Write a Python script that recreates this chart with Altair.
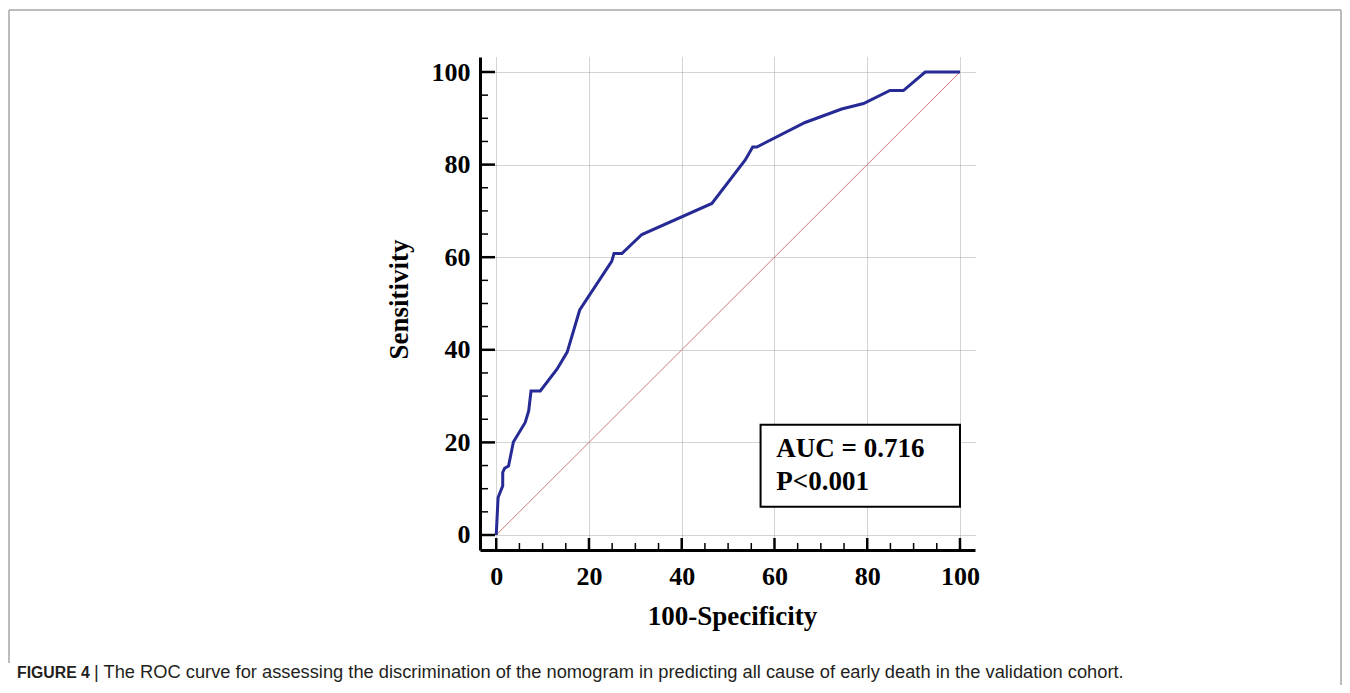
import altair as alt
import pandas as pd

# ROC curve points (100-Specificity, Sensitivity)
fpr = [0, 0.4, 1.4, 1.4, 1.8, 2.65, 3.7, 6.25, 7.0, 7.5, 9.5, 13.1, 15.3, 18.0,
       24.9, 25.4, 27.1, 31.4, 46.5, 53.7, 55.3, 56.2, 66.6, 74.5, 79.2, 84.9,
       87.8, 92.5, 100]
tpr = [0, 8.1, 10.6, 13.5, 14.4, 14.9, 20.1, 24.3, 26.8, 31.1, 31.1, 35.8, 39.5,
       48.6, 59.1, 60.8, 60.8, 64.9, 71.6, 81.0, 83.8, 83.8, 89.1, 92.0, 93.2,
       96.0, 96.0, 100, 100]

diag_x = [0, 100]
diag_y = [0, 100]

major_ticks = [0, 20, 40, 60, 80, 100]
minor_ticks = [5, 10, 15, 25, 30, 35, 45, 50, 55, 65, 70, 75, 85, 90, 95]

box_x = [57.0]
box_x2 = [100.0]
box_y = [6.1]
box_y2 = [23.8]

stat_lines = ["AUC = 0.716", "P<0.001"]
stat_x = [60.4, 60.4]
stat_y = [16.9, 9.7]

caption_bold = "FIGURE 4"
caption_rest = "| The ROC curve for assessing the discrimination of the nomogram in predicting all cause of early death in the validation cohort."

W, H = 495, 493
SERIF = "Liberation Serif"
SANS = "Liberation Sans"

xs = alt.Scale(domain=[-3.5, 103.24], nice=False, zero=False)
ys = alt.Scale(domain=[-3.24, 103.24], nice=False, zero=False)

roc = pd.DataFrame({"fpr": fpr, "tpr": tpr, "i": list(range(len(fpr)))})
diag = pd.DataFrame({"fpr": diag_x, "tpr": diag_y})
maj = pd.DataFrame({"fpr": major_ticks, "tpr": major_ticks})
mnr = pd.DataFrame({"fpr": minor_ticks, "tpr": minor_ticks})
box = pd.DataFrame({"fpr": box_x, "x2": box_x2, "tpr": box_y, "y2": box_y2})
stats = pd.DataFrame({"t": stat_lines, "fpr": stat_x, "tpr": stat_y})
one = pd.DataFrame({"a": [0]})

GRID = "#a9a9a9"
x_axis = alt.Axis(values=major_ticks, grid=True, gridColor=GRID, gridDash=[1, 1],
                  gridWidth=1, ticks=False, tickSize=0, domainColor="black", domainWidth=3,
                  labelFont=SERIF, labelFontWeight="bold", labelFontSize=26,
                  labelColor="black", labelPadding=13, labelFlush=False,
                  title="100-Specificity", titleFont=SERIF, titleFontWeight="bold",
                  titleFontSize=27, titleColor="black", titleX=252, titleY=74.5,
                  titleBaseline="alphabetic", titleAlign="center")
y_axis = alt.Axis(values=major_ticks, grid=True, gridColor=GRID, gridDash=[1, 1],
                  gridWidth=1, ticks=False, tickSize=0, domainColor="black", domainWidth=3,
                  labelFont=SERIF, labelFontWeight="bold", labelFontSize=26,
                  labelColor="black", labelPadding=10, labelFlush=False,
                  title="Sensitivity", titleFont=SERIF, titleFontWeight="bold",
                  titleFontSize=27, titleColor="black", titleX=-73, titleY=242,
                  titleAngle=270, titleBaseline="alphabetic", titleAlign="center")


def X():
    return alt.X("fpr:Q", scale=xs, axis=x_axis, title="100-Specificity")


def Y():
    return alt.Y("tpr:Q", scale=ys, axis=y_axis, title="Sensitivity")


diag_layer = alt.Chart(diag).mark_line(color="#cc7a7a", strokeWidth=1).encode(
    x=X(), y=Y())

roc_layer = alt.Chart(roc).mark_line(color="#262a94", strokeWidth=3).encode(
    x=X(), y=Y(), order="i:Q")

ytick_major = alt.Chart(maj).mark_rule(color="black", strokeWidth=2.5).encode(
    y=Y(), x=alt.value(0), x2=alt.value(15))
ytick_minor = alt.Chart(mnr).mark_rule(color="black", strokeWidth=1.5).encode(
    y=Y(), x=alt.value(0), x2=alt.value(8))
xtick_major = alt.Chart(maj).mark_rule(color="black", strokeWidth=2.5).encode(
    x=X(), y=alt.value(H), y2=alt.value(H - 12))
xtick_minor = alt.Chart(mnr).mark_rule(color="black", strokeWidth=1.5).encode(
    x=X(), y=alt.value(H), y2=alt.value(H - 7))

box_layer = alt.Chart(box).mark_rect(fill="white", stroke="black", strokeWidth=2).encode(
    x=X(), x2="x2:Q", y=Y(), y2="y2:Q")

stat_layer = alt.Chart(stats).mark_text(font=SERIF, fontWeight="bold", fontSize=27,
                                        color="black", align="left",
                                        baseline="alphabetic").encode(
    x=X(), y=Y(), text="t:N")

cap1 = alt.Chart(one).mark_text(text=caption_bold, font=SANS, fontWeight="bold",
                                fontSize=15.8, color="#231f20", align="left",
                                baseline="alphabetic").encode(
    x=alt.value(-463), y=alt.value(621))
cap2 = alt.Chart(one).mark_text(text=caption_rest, font=SANS, fontSize=18.3,
                                color="#231f20", align="left",
                                baseline="alphabetic").encode(
    x=alt.value(-386), y=alt.value(621))

frame_top = alt.Chart(one).mark_rule(color="#a6a6a6", strokeWidth=1.5).encode(
    x=alt.value(-471), x2=alt.value(861), y=alt.value(-47))
frame_left = alt.Chart(one).mark_rule(color="#a6a6a6", strokeWidth=1.5).encode(
    x=alt.value(-471), y=alt.value(-47), y2=alt.value(606))
frame_right = alt.Chart(one).mark_rule(color="#a6a6a6", strokeWidth=1.5).encode(
    x=alt.value(861), y=alt.value(-47), y2=alt.value(628))

chart = alt.layer(
    diag_layer, roc_layer, ytick_major, ytick_minor, xtick_major, xtick_minor,
    box_layer, stat_layer, cap1, cap2, frame_top, frame_left, frame_right,
).properties(
    width=W, height=H,
    autosize=alt.AutoSizeParams(type="none"),
    padding={"left": 472, "top": 49, "right": 367, "bottom": 135},
    background="white",
).configure_view(stroke=None)

chart.save("out.html", embed_options={"renderer": "svg", "actions": False})
